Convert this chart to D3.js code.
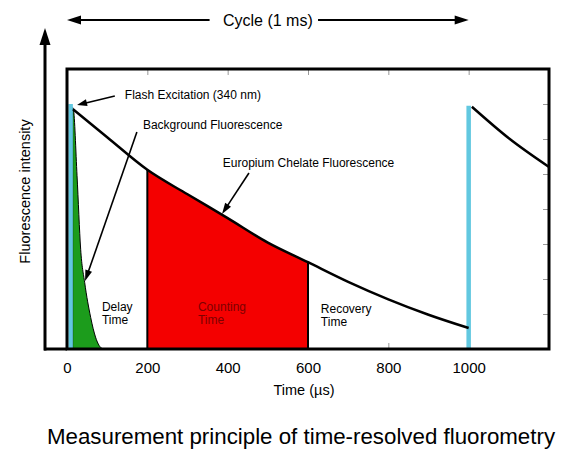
<!DOCTYPE html>
<html>
<head>
<meta charset="utf-8">
<script src="https://cdn.jsdelivr.net/npm/d3@7"></script>
<style>
  body { margin: 0; background: #fff; }
  svg { display: block; font-family: "Liberation Sans", Arial, sans-serif; }
</style>
</head>
<body>
<div id="chart"></div>
<script>
// Europium chelate decay, first cycle (time in µs, intensity in arbitrary units)
const decayTime = [15, 100, 200, 300, 400, 500, 600, 700, 800, 900, 1000];
const decayValue = [6.85, 6.05, 5.12, 4.42, 3.74, 3.04, 2.48, 1.92, 1.42, 0.98, 0.60];
// decay after the next flash
const nextTime = [1008, 1100, 1200];
const nextValue = [6.92, 6.02, 5.2];
// short-lived background fluorescence
const bgTime = [14, 16, 25, 34, 44, 59, 71, 80, 89];
const bgValue = [6.9, 6.85, 4.95, 2.85, 1.9, 0.9, 0.34, 0.1, 0];
// flash pulses
const flashTime = [9, 1000];
const flashValue = [7.0, 6.95];
// counting window
const countWindow = [200, 600];
const xTicks = [0, 200, 400, 600, 800, 1000];
const yTicks = [1, 2, 3, 4, 5, 6, 7];

const width = 569, height = 452;
const svg = d3.select("#chart").append("svg")
    .attr("width", width)
    .attr("height", height);

const x = d3.scaleLinear().domain([0, 1200]).range([67, 549]);
const y = d3.scaleLinear().domain([0, 8]).range([349, 69]);

const decay = decayTime.map((t, i) => ({t, v: decayValue[i]}));
const next = nextTime.map((t, i) => ({t, v: nextValue[i]}));
const bg = bgTime.map((t, i) => ({t, v: bgValue[i]}));

// small inner ticks on the frame
svg.append("g")
    .attr("transform", `translate(0,${y(8)})`)
    .call(d3.axisTop(x).tickValues(xTicks.slice(1)).tickSize(-6).tickFormat(""))
    .call(g => g.select(".domain").remove())
    .call(g => g.selectAll("line").attr("stroke", "#999"));
svg.append("g")
    .attr("transform", `translate(0,${y(0)})`)
    .call(d3.axisBottom(x).tickValues(xTicks.slice(1)).tickSize(-6).tickFormat(""))
    .call(g => g.select(".domain").remove())
    .call(g => g.selectAll("line").attr("stroke", "#999"));
svg.append("g")
    .attr("transform", `translate(${x(1200)},0)`)
    .call(d3.axisRight(y).tickValues(yTicks).tickSize(-6).tickFormat(""))
    .call(g => g.select(".domain").remove())
    .call(g => g.selectAll("line").attr("stroke", "#999"));

// background fluorescence (green)
svg.append("path")
    .datum(bg)
    .attr("fill", "#1c9c1c")
    .attr("stroke", "#000")
    .attr("stroke-width", 1)
    .attr("d", d3.area()
        .x(d => x(d.t)).y0(y(0)).y1(d => y(d.v))
        .curve(d3.curveMonotoneX));

// counting window (red)
svg.append("clipPath").attr("id", "win")
  .append("rect")
    .attr("x", x(countWindow[0]))
    .attr("width", x(countWindow[1]) - x(countWindow[0]))
    .attr("y", y(8))
    .attr("height", y(0) - y(8));
svg.append("path")
    .datum(decay)
    .attr("clip-path", "url(#win)")
    .attr("fill", "#f40000")
    .attr("d", d3.area()
        .x(d => x(d.t)).y0(y(0)).y1(d => y(d.v))
        .curve(d3.curveMonotoneX));
svg.selectAll("line.win")
    .data(countWindow)
    .join("line")
    .attr("class", "win")
    .attr("x1", d => x(d)).attr("x2", d => x(d))
    .attr("y1", y(0))
    .attr("y2", d => y(decayValue[decayTime.indexOf(d)]))
    .attr("stroke", "#000")
    .attr("stroke-width", 2);

// flash pulses (light blue)
svg.selectAll("line.flash")
    .data(flashTime)
    .join("line")
    .attr("class", "flash")
    .attr("x1", d => x(d)).attr("x2", d => x(d))
    .attr("y1", y(0))
    .attr("y2", (d, i) => y(flashValue[i]))
    .attr("stroke", "#62c8e0")
    .attr("stroke-width", 4.5);

// europium decay curves
const line = d3.line().x(d => x(d.t)).y(d => y(d.v)).curve(d3.curveMonotoneX);
[decay, next].forEach(seg => {
    svg.append("path")
        .datum(seg)
        .attr("fill", "none")
        .attr("stroke", "#000")
        .attr("stroke-width", 2.5)
        .attr("d", line);
});

// frame
svg.append("rect")
    .attr("x", x(0)).attr("y", y(8))
    .attr("width", x(1200) - x(0))
    .attr("height", y(0) - y(8))
    .attr("fill", "none")
    .attr("stroke", "#000")
    .attr("stroke-width", 3);

function arrowHead(x1, y1, x2, y2, len, wid) {
    const a = Math.atan2(y2 - y1, x2 - x1);
    const bx = x2 - len * Math.cos(a), by = y2 - len * Math.sin(a);
    const nx = -Math.sin(a) * wid / 2, ny = Math.cos(a) * wid / 2;
    return `M${x2},${y2}L${bx + nx},${by + ny}L${bx - nx},${by - ny}Z`;
}

function arrow(x1, y1, x2, y2, len, wid, sw) {
    const a = Math.atan2(y2 - y1, x2 - x1);
    svg.append("line")
        .attr("x1", x1).attr("y1", y1)
        .attr("x2", x2 - (len - 2) * Math.cos(a))
        .attr("y2", y2 - (len - 2) * Math.sin(a))
        .attr("stroke", "#000")
        .attr("stroke-width", sw);
    svg.append("path")
        .attr("d", arrowHead(x1, y1, x2, y2, len, wid))
        .attr("fill", "#000");
}

// y axis arrow and x axis base line
arrow(45, y(0) + 1.5, 45, 28, 17, 11, 3);
svg.append("line")
    .attr("x1", 44).attr("x2", x(0))
    .attr("y1", y(0)).attr("y2", y(0))
    .attr("stroke", "#000").attr("stroke-width", 3);

// x tick labels
svg.append("g")
    .attr("transform", `translate(0,${y(0)})`)
    .call(d3.axisBottom(x).tickValues(xTicks).tickSize(0).tickPadding(13).tickFormat(d3.format("d")))
    .call(g => g.select(".domain").remove())
    .call(g => g.selectAll("text")
        .attr("font-family", "Liberation Sans, Arial, sans-serif")
        .attr("font-size", 15).attr("fill", "#000"));

svg.append("text")
    .attr("x", x(590)).attr("y", 395)
    .attr("text-anchor", "middle")
    .attr("font-size", 14.5)
    .text("Time (µs)");

svg.append("text")
    .attr("transform", `translate(30,${y(4.5)}) rotate(-90)`)
    .attr("text-anchor", "middle")
    .attr("font-size", 14.5)
    .text("Fluorescence intensity");

// cycle arrow
svg.append("text")
    .attr("x", x(500)).attr("y", 26)
    .attr("text-anchor", "middle")
    .attr("font-size", 16)
    .text("Cycle (1 ms)");
arrow(x(355), 20, x(0), 20, 14, 9, 2);
arrow(x(625), 20, x(1000), 20, 14, 9, 2);

// annotations
const annoFont = 12;
svg.append("text").attr("x", x(144)).attr("y", y(7.14))
    .attr("font-size", annoFont).text("Flash Excitation (340 nm)");
arrow(x(119), y(7.23), x(25), y(6.97), 10, 7, 1.6);

svg.append("text").attr("x", x(189)).attr("y", y(6.29))
    .attr("font-size", annoFont).text("Background Fluorescence");
arrow(x(174), y(6.2), x(45), y(1.94), 11, 7, 1.6);

svg.append("text").attr("x", x(388)).attr("y", y(5.2))
    .attr("font-size", annoFont).text("Europium Chelate Fluorescence");
arrow(x(453), y(5.03), x(386), y(3.86), 11, 7, 1.6);

function twoLines(t, v, lines, color) {
    const txt = svg.append("text")
        .attr("x", x(t)).attr("y", y(v))
        .attr("font-size", annoFont)
        .attr("fill", color);
    lines.forEach((s, i) => {
        txt.append("tspan").attr("x", x(t)).attr("dy", i ? 13 : 0).text(s);
    });
}
twoLines(87, 1.09, ["Delay", "Time"], "#000");
twoLines(326, 1.09, ["Counting", "Time"], "#7d0000");
twoLines(632, 1.03, ["Recovery", "Time"], "#000");

// caption
svg.append("text")
    .attr("x", 301).attr("y", 444)
    .attr("text-anchor", "middle")
    .attr("font-size", 22.3)
    .text("Measurement principle of time-resolved fluorometry");
</script>
</body>
</html>
